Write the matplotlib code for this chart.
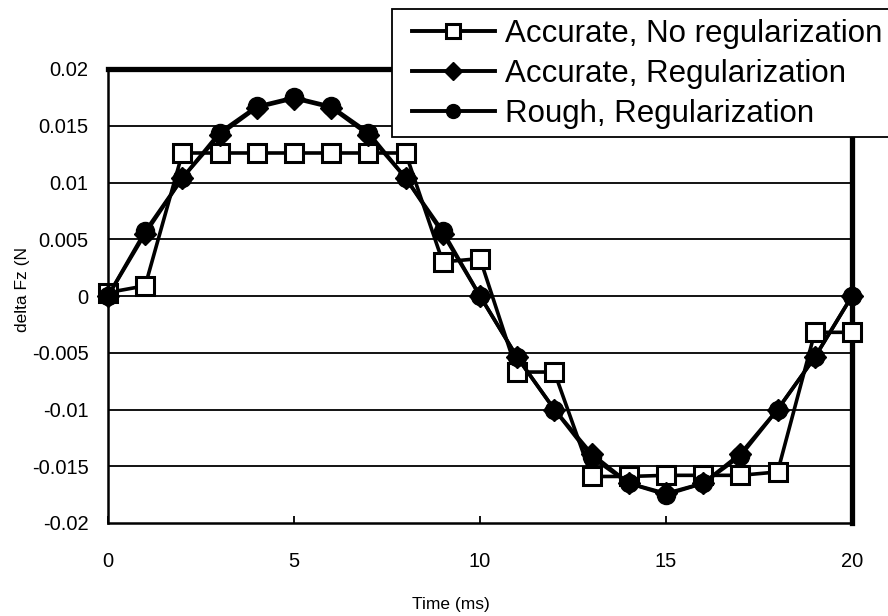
import matplotlib
matplotlib.use("Agg")
import matplotlib.pyplot as plt
from matplotlib.lines import Line2D
from matplotlib.patches import Rectangle

plt.rcParams['font.family'] = ['Liberation Sans', 'DejaVu Sans']

time_ms = [0, 1, 2, 3, 4, 5, 6, 7, 8, 9, 10, 11, 12, 13, 14, 15, 16, 17, 18, 19, 20]
accurate_no_reg = [0.0003, 0.0009, 0.0126, 0.0126, 0.0126, 0.0126, 0.0126, 0.0126, 0.0126,
                   0.0030, 0.0033, -0.0067, -0.0067, -0.0159, -0.0159, -0.0158, -0.0158,
                   -0.0158, -0.0155, -0.0032, -0.0032]
accurate_reg = [0.0, 0.0055, 0.0104, 0.0142, 0.0166, 0.0174, 0.0166, 0.0142, 0.0104,
                0.0055, 0.0, -0.0054, -0.0100, -0.0139, -0.0165, -0.0174, -0.0165,
                -0.0139, -0.0100, -0.0054, 0.0]
rough_reg = [0.0, 0.0057, 0.0104, 0.0144, 0.0167, 0.0175, 0.0167, 0.0144, 0.0104,
             0.0057, 0.0, -0.0054, -0.0100, -0.0142, -0.0165, -0.0175, -0.0165,
             -0.0141, -0.0100, -0.0054, 0.0]

series_names = ["Accurate, No regularization", "Accurate, Regularization", "Rough, Regularization"]
x_ticks = [0, 5, 10, 15, 20]
y_ticks = [-0.02, -0.015, -0.01, -0.005, 0, 0.005, 0.01, 0.015, 0.02]
y_tick_labels = ["-0.02", "-0.015", "-0.01", "-0.005", "0",
                 "0.005", "0.01", "0.015", "0.02"]

W, H = 888, 616
fig = plt.figure(figsize=(W/100, H/100), dpi=100)
ax = fig.add_axes([108/W, 1-523/H, (852-108)/W, (523-69)/H])

ax.set_xlim(0, 20)
ax.set_ylim(-0.02, 0.02)

for yv in y_ticks[1:-1]:
    ax.axhline(yv, color='black', lw=1.3, zorder=1)

lw = 2.6
ms = 13
ax.plot(time_ms, accurate_no_reg, color='black', lw=lw, marker='s', ms=ms,
        mfc='white', mec='black', mew=2.2, clip_on=False, zorder=3, label=series_names[0])
ax.plot(time_ms, accurate_reg, color='black', lw=lw, marker='D', ms=ms*0.85,
        mfc='black', mec='black', clip_on=False, zorder=4, label=series_names[1])
ax.plot(time_ms, rough_reg, color='black', lw=lw, marker='o', ms=ms,
        mfc='black', mec='black', clip_on=False, zorder=5, label=series_names[2])

for side in ['left', 'bottom']:
    ax.spines[side].set_linewidth(1.8)
for side in ['top', 'right']:
    ax.spines[side].set_linewidth(3.8)
    ax.spines[side].set_zorder(2)

ax.set_xticks(x_ticks)
ax.set_xticklabels([str(v) for v in x_ticks])
ax.set_yticks(y_ticks)
ax.set_yticklabels(y_tick_labels)
ax.tick_params(axis='x', direction='in', length=5, width=1.3, pad=21, labelsize=14.5)
ax.tick_params(axis='y', length=0, pad=14, labelsize=14.5)

fig.text(22/W, 1-290/H, "delta Fz (N", rotation=90, ha='center', va='center', fontsize=12.5)
fig.text(451/W, 1-604/H, "Time (ms)", ha='center', va='center', fontsize=12.5)

# legend frame (extends past the right edge of the figure, as in the reference)
frame = Rectangle((392/W, 1-137/H), (W+20-392)/W, (137-9)/H, transform=fig.transFigure,
                  facecolor='white', edgecolor='black', lw=1.3, zorder=10, clip_on=False)
fig.patches.append(frame)

handles = [
    Line2D([], [], color='black', lw=2.8, marker='s', ms=9.5, mfc='white', mec='black', mew=2.2),
    Line2D([], [], color='black', lw=2.8, marker='D', ms=9, mfc='black', mec='black'),
    Line2D([], [], color='black', lw=2.8, marker='o', ms=10, mfc='black', mec='black'),
]
leg = fig.legend(handles, series_names, loc='upper left', bbox_to_anchor=(412/W, 1-19/H),
                 fontsize=22.5, frameon=False,
                 handlelength=2.65, handletextpad=0.33, borderpad=0, labelspacing=0.32,
                 borderaxespad=0)
leg.set_zorder(11)

fig.savefig("out.png", dpi=100)
